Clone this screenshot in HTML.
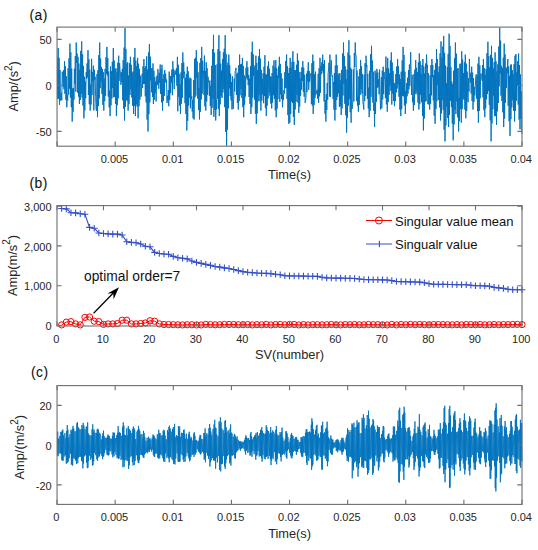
<!DOCTYPE html>
<html><head><meta charset="utf-8"><style>
html,body{margin:0;padding:0;background:#fff;width:538px;height:550px;overflow:hidden}
svg{display:block}
text{font-family:"Liberation Sans",sans-serif;fill:#262626}
.tk{font-size:11px}
.lb{font-size:12.8px}
.sup{font-size:10px}
.lg{font-size:13px;fill:#111}
.an{font-size:13.8px;fill:#111}
.pl{font-size:13.8px;fill:#111;letter-spacing:0.5px;stroke:#111;stroke-width:0.08px}
</style></head>
<body><svg width="538" height="550" viewBox="0 0 538 550">
<rect x="0" y="0" width="538" height="550" fill="#fff"/>
<clipPath id="ca"><rect x="57" y="27" width="466" height="120"/></clipPath>
<polyline points="57.3,56.7 57.7,99.0 58.2,48.0 58.6,98.6 59.1,57.9 59.5,105.0 60.0,69.9 60.4,97.9 60.9,100.7 61.3,92.5 61.8,100.1 62.2,71.7 62.7,76.5 63.1,86.8 63.6,70.2 64.0,89.2 64.5,61.2 64.9,93.8 65.4,66.1 65.9,99.8 66.3,76.3 66.8,107.3 67.2,94.8 67.7,100.5 68.1,68.3 68.6,94.6 69.0,58.4 69.5,88.6 69.9,43.6 70.4,97.8 70.8,52.4 71.3,107.2 71.7,68.7 72.2,121.6 72.6,88.5 73.1,111.7 73.5,87.9 74.0,99.6 74.4,68.7 74.9,84.0 75.3,56.1 75.8,91.7 76.2,42.5 76.7,62.8 77.1,53.5 77.6,92.7 78.0,56.8 78.5,96.6 78.9,63.5 79.4,104.0 79.8,69.7 80.3,99.9 80.7,50.9 81.2,93.9 81.7,41.4 82.1,97.5 82.6,54.4 83.0,105.6 83.5,65.9 83.9,118.3 84.4,76.7 84.8,110.3 85.3,81.6 85.7,98.2 86.2,72.1 86.6,78.8 87.1,63.3 87.5,77.3 88.0,50.2 88.4,95.0 88.9,59.3 89.3,104.2 89.8,69.6 90.2,110.6 90.7,84.6 91.1,104.5 91.6,58.8 92.0,95.1 92.5,72.2 92.9,80.9 93.4,65.6 93.8,110.4 94.3,69.7 94.7,79.9 95.2,76.8 95.6,96.3 96.1,109.4 96.5,110.8 97.0,74.0 97.5,117.2 97.9,70.1 98.4,106.1 98.8,55.1 99.3,98.4 99.7,42.5 100.2,88.2 100.6,58.6 101.1,81.5 101.5,67.0 102.0,94.0 102.4,68.9 102.9,104.9 103.3,72.2 103.8,110.6 104.2,78.4 104.7,101.0 105.1,68.9 105.6,95.8 106.0,57.1 106.5,73.9 106.9,46.9 107.4,75.5 107.8,58.1 108.3,96.7 108.7,71.5 109.2,107.3 109.6,90.7 110.1,116.1 110.5,66.5 111.0,105.4 111.4,71.2 111.9,98.4 112.3,61.8 112.8,88.0 113.3,48.0 113.7,97.2 114.2,60.6 114.6,97.0 115.1,68.8 115.5,103.9 116.0,68.3 116.4,116.1 116.9,72.4 117.3,105.3 117.8,62.7 118.2,98.4 118.7,55.7 119.1,81.0 119.6,63.2 120.0,70.5 120.5,73.2 120.9,84.9 121.4,72.3 121.8,82.2 122.3,68.9 122.7,100.2 123.2,60.1 123.6,108.7 124.1,47.6 124.5,120.5 125.0,28.2 125.4,106.8 125.9,48.9 126.3,100.0 126.8,63.6 127.2,101.2 127.7,62.2 128.1,110.6 128.6,75.6 129.0,104.2 129.5,63.3 130.0,94.9 130.4,56.8 130.9,89.3 131.3,64.8 131.8,97.6 132.2,72.6 132.7,105.9 133.1,71.5 133.6,114.0 134.0,57.1 134.5,105.9 134.9,48.0 135.4,116.1 135.8,60.6 136.3,104.4 136.7,66.3 137.2,106.8 137.6,57.9 138.1,118.3 138.5,63.7 139.0,106.2 139.4,68.8 139.9,99.6 140.3,75.7 140.8,86.5 141.2,96.6 141.7,86.0 142.1,73.8 142.6,88.0 143.0,66.4 143.5,83.8 143.9,59.0 144.4,83.8 144.8,68.1 145.3,96.3 145.8,66.0 146.2,102.5 146.7,56.3 147.1,119.6 147.6,69.5 148.0,131.5 148.5,52.5 148.9,114.2 149.4,44.0 149.8,102.4 150.3,56.7 150.7,80.3 151.2,68.3 151.6,92.3 152.1,68.3 152.5,97.0 153.0,63.4 153.4,104.0 153.9,70.7 154.3,99.7 154.8,77.0 155.2,92.9 155.7,81.5 156.1,101.4 156.6,78.4 157.0,75.7 157.5,85.1 157.9,69.1 158.4,77.3 158.8,88.8 159.3,72.8 159.7,82.9 160.2,64.5 160.6,94.0 161.1,69.3 161.6,102.4 162.0,64.8 162.5,110.6 162.9,79.0 163.4,100.9 163.8,74.2 164.3,95.9 164.7,70.0 165.2,81.7 165.6,73.7 166.1,83.0 166.5,79.6 167.0,103.0 167.4,95.9 167.9,100.5 168.3,90.0 168.8,106.2 169.2,71.6 169.7,99.9 170.1,76.2 170.6,93.2 171.0,75.8 171.5,82.4 171.9,69.5 172.4,95.2 172.8,61.2 173.3,77.1 173.7,69.3 174.2,89.1 174.6,72.6 175.1,70.5 175.5,73.0 176.0,74.9 176.4,68.2 176.9,85.8 177.4,56.8 177.8,111.3 178.3,64.8 178.7,96.9 179.2,73.9 179.6,105.5 180.1,84.4 180.5,114.0 181.0,72.4 181.4,103.8 181.9,63.1 182.3,97.8 182.8,52.4 183.2,78.4 183.7,62.5 184.1,74.0 184.6,71.9 185.0,103.2 185.5,77.9 185.9,114.0 186.4,73.9 186.8,130.4 187.3,66.7 187.7,120.8 188.2,71.2 188.6,105.5 189.1,78.5 189.5,97.6 190.0,77.6 190.4,108.3 190.9,78.4 191.3,99.0 191.8,96.5 192.2,111.5 192.7,99.9 193.1,118.3 193.6,80.2 194.1,119.5 194.5,59.0 195.0,97.4 195.4,57.8 195.9,95.6 196.3,50.2 196.8,78.0 197.2,61.5 197.7,98.6 198.1,72.3 198.6,110.0 199.0,88.3 199.5,119.4 199.9,62.9 200.4,111.8 200.8,58.1 201.3,99.4 201.7,46.9 202.2,93.5 202.6,60.8 203.1,72.8 203.5,71.0 204.0,95.1 204.4,55.6 204.9,106.4 205.3,70.9 205.8,110.6 206.2,62.3 206.7,101.5 207.1,68.0 207.6,95.0 208.0,76.7 208.5,82.1 208.9,81.1 209.4,95.9 209.9,80.5 210.3,106.0 210.8,85.6 211.2,115.0 211.7,65.8 212.1,107.7 212.6,49.1 213.0,98.8 213.5,34.8 213.9,116.8 214.4,52.7 214.8,110.0 215.3,65.1 215.7,120.5 216.2,100.0 216.6,109.2 217.1,64.3 217.5,98.6 218.0,49.1 218.4,108.7 218.9,35.2 219.3,116.1 219.8,51.0 220.2,104.3 220.7,63.6 221.1,96.1 221.6,70.7 222.0,97.9 222.5,59.2 222.9,92.6 223.4,52.4 223.8,89.0 224.3,48.7 224.7,107.2 225.2,35.2 225.7,131.9 226.1,53.9 226.6,145.8 227.0,65.5 227.5,129.7 227.9,62.6 228.4,108.3 228.8,54.6 229.3,88.6 229.7,65.3 230.2,96.0 230.6,73.8 231.1,100.5 231.5,82.0 232.0,109.5 232.4,76.2 232.9,104.1 233.3,108.9 233.8,96.0 234.2,78.5 234.7,91.5 235.1,71.3 235.6,70.2 236.0,67.8 236.5,94.8 236.9,73.9 237.4,102.8 237.8,72.7 238.3,109.5 238.7,65.3 239.2,101.1 239.6,54.6 240.1,95.3 240.5,64.4 241.0,89.1 241.5,63.9 241.9,98.0 242.4,57.9 242.8,107.2 243.3,65.9 243.7,117.2 244.2,75.2 244.6,104.8 245.1,77.0 245.5,96.4 246.0,67.9 246.4,77.6 246.9,61.2 247.3,79.5 247.8,67.2 248.2,85.2 248.7,75.1 249.1,97.0 249.6,78.6 250.0,103.9 250.5,66.2 250.9,114.0 251.4,52.1 251.8,107.2 252.3,41.8 252.7,97.6 253.2,54.3 253.6,75.6 254.1,67.3 254.5,99.4 255.0,65.4 255.4,113.7 255.9,55.7 256.3,123.8 256.8,62.8 257.2,113.5 257.7,70.0 258.2,101.4 258.6,56.4 259.1,94.9 259.5,49.1 260.0,101.2 260.4,58.6 260.9,110.6 261.3,69.8 261.8,100.6 262.2,78.9 262.7,94.3 263.1,73.4 263.6,103.2 264.0,66.7 264.5,95.9 264.9,55.2 265.4,108.1 265.8,74.0 266.3,116.1 266.7,74.7 267.2,105.6 267.6,66.2 268.1,98.4 268.5,61.2 269.0,92.3 269.4,68.7 269.9,95.6 270.3,76.4 270.8,103.5 271.2,76.8 271.7,108.4 272.1,73.0 272.6,102.5 273.0,65.6 273.5,95.2 274.0,60.3 274.4,98.9 274.9,67.5 275.3,110.4 275.8,60.1 276.2,117.2 276.7,68.3 277.1,108.8 277.6,75.5 278.0,99.0 278.5,66.5 278.9,77.5 279.4,56.8 279.8,101.8 280.3,63.9 280.7,94.3 281.2,73.2 281.6,99.1 282.1,78.4 282.5,107.3 283.0,94.0 283.4,99.9 283.9,90.1 284.3,93.6 284.8,72.3 285.2,88.2 285.7,61.0 286.1,88.1 286.6,54.6 287.0,98.9 287.5,66.3 287.9,115.1 288.4,73.0 288.8,123.8 289.3,68.2 289.8,122.7 290.2,57.9 290.7,114.0 291.1,67.3 291.6,101.5 292.0,61.8 292.5,103.0 292.9,51.3 293.4,116.8 293.8,61.9 294.3,124.9 294.7,70.1 295.2,109.5 295.6,70.2 296.1,101.7 296.5,64.8 297.0,95.0 297.4,53.5 297.9,102.6 298.3,60.5 298.8,112.8 299.2,72.1 299.7,106.4 300.1,78.3 300.6,95.8 301.0,71.9 301.5,89.7 301.9,67.3 302.4,80.9 302.8,61.2 303.3,91.6 303.7,67.6 304.2,96.7 304.6,74.8 305.1,102.9 305.5,101.7 306.0,97.2 306.5,73.7 306.9,92.1 307.4,70.9 307.8,81.3 308.3,62.3 308.7,89.8 309.2,71.1 309.6,81.8 310.1,77.3 310.5,73.9 311.0,73.2 311.4,104.0 311.9,63.3 312.3,105.7 312.8,54.6 313.2,113.9 313.7,61.1 314.1,105.1 314.6,74.4 315.0,97.9 315.5,71.7 315.9,94.7 316.4,91.1 316.8,92.8 317.3,89.6 317.7,98.9 318.2,73.8 318.6,102.9 319.1,68.3 319.5,96.3 320.0,57.9 320.4,92.9 320.9,66.0 321.3,74.2 321.8,62.3 322.3,70.6 322.7,54.6 323.2,73.3 323.6,64.1 324.1,101.4 324.5,60.1 325.0,113.7 325.4,100.3 325.9,121.6 326.3,94.2 326.8,110.0 327.2,82.9 327.7,99.9 328.1,73.3 328.6,68.9 329.0,62.7 329.5,96.5 329.9,54.6 330.4,97.1 330.8,66.9 331.3,60.2 331.7,74.7 332.2,76.5 332.6,75.4 333.1,98.9 333.5,82.1 334.0,109.7 334.4,73.0 334.9,120.5 335.3,65.6 335.8,110.0 336.2,54.6 336.7,100.0 337.1,65.1 337.6,96.8 338.1,74.7 338.5,93.2 339.0,73.3 339.4,106.8 339.9,73.3 340.3,106.3 340.8,80.1 341.2,115.0 341.7,69.9 342.1,108.4 342.6,53.5 343.0,95.6 343.5,42.5 343.9,83.6 344.4,56.3 344.8,103.8 345.3,66.3 345.7,115.2 346.2,78.9 346.6,132.6 347.1,69.6 347.5,117.6 348.0,52.4 348.4,105.6 348.9,40.3 349.3,99.3 349.8,55.3 350.2,112.2 350.7,67.7 351.1,122.7 351.6,69.5 352.0,109.0 352.5,106.7 352.9,100.2 353.4,69.4 353.9,101.5 354.3,53.0 354.8,66.9 355.2,42.5 355.7,55.2 356.1,55.3 356.6,101.1 357.0,70.4 357.5,105.4 357.9,96.8 358.4,111.7 358.8,76.4 359.3,104.9 359.7,69.1 360.2,95.0 360.6,60.1 361.1,89.2 361.5,66.2 362.0,93.7 362.4,74.1 362.9,102.6 363.3,104.9 363.8,109.5 364.2,74.7 364.7,101.0 365.1,63.2 365.6,95.6 366.0,55.7 366.5,67.1 366.9,65.2 367.4,98.8 367.8,73.8 368.3,108.6 368.7,87.7 369.2,117.2 369.6,70.9 370.1,110.8 370.6,54.1 371.0,97.0 371.5,45.8 371.9,71.9 372.4,60.7 372.8,102.4 373.3,71.7 373.7,110.7 374.2,102.6 374.6,127.1 375.1,70.6 375.5,114.0 376.0,73.1 376.4,101.9 376.9,68.9 377.3,87.8 377.8,72.4 378.2,87.0 378.7,79.3 379.1,94.3 379.6,69.6 380.0,93.3 380.5,109.5 380.9,100.9 381.4,77.1 381.8,108.4 382.3,70.6 382.7,99.4 383.2,66.7 383.6,94.1 384.1,72.0 384.5,78.6 385.0,78.3 385.4,98.2 385.9,56.6 386.4,104.3 386.8,68.1 387.3,111.7 387.7,57.9 388.2,102.1 388.6,68.5 389.1,95.0 389.5,73.3 390.0,85.7 390.4,60.6 390.9,90.9 391.3,52.4 391.8,104.6 392.2,62.5 392.7,93.6 393.1,70.9 393.6,101.0 394.0,82.7 394.5,106.2 394.9,83.7 395.4,101.1 395.8,74.1 396.3,92.5 396.7,66.5 397.2,88.6 397.6,59.0 398.1,84.5 398.5,66.4 399.0,96.8 399.4,74.5 399.9,109.6 400.3,79.1 400.8,116.1 401.2,71.7 401.7,109.2 402.2,60.4 402.6,95.8 403.1,46.9 403.5,96.3 404.0,55.0 404.4,105.4 404.9,71.7 405.3,114.0 405.8,90.9 406.2,103.5 406.7,83.0 407.1,96.3 407.6,77.8 408.0,93.7 408.5,70.1 408.9,89.3 409.4,64.5 409.8,85.9 410.3,65.1 410.7,52.2 411.2,76.7 411.6,95.0 412.1,74.9 412.5,102.1 413.0,97.3 413.4,110.6 413.9,74.2 414.3,105.1 414.8,69.7 415.2,94.2 415.7,60.1 416.1,91.5 416.6,67.8 417.0,94.2 417.5,72.3 418.0,102.6 418.4,62.4 418.9,109.5 419.3,53.5 419.8,104.1 420.2,61.2 420.7,94.9 421.1,73.8 421.6,102.2 422.0,65.0 422.5,115.8 422.9,59.0 423.4,130.4 423.8,66.3 424.3,118.5 424.7,73.5 425.2,101.9 425.6,63.5 426.1,101.1 426.5,54.6 427.0,68.2 427.4,64.9 427.9,104.1 428.3,73.1 428.8,104.5 429.2,94.0 429.7,109.5 430.1,75.3 430.6,103.8 431.0,65.0 431.5,95.3 431.9,59.0 432.4,77.3 432.8,65.1 433.3,100.3 433.7,75.0 434.2,115.6 434.7,69.9 435.1,123.8 435.6,63.3 436.0,108.9 436.5,49.1 436.9,101.1 437.4,59.0 437.8,85.1 438.3,72.3 438.7,100.0 439.2,66.4 439.6,107.4 440.1,53.4 440.5,120.5 441.0,41.4 441.4,113.4 441.9,57.8 442.3,100.2 442.8,46.4 443.2,110.1 443.7,35.9 444.1,129.8 444.6,52.9 445.0,141.4 445.5,65.5 445.9,125.5 446.4,83.1 446.8,106.6 447.3,66.8 447.7,118.1 448.2,53.8 448.6,127.1 449.1,33.7 449.5,114.7 450.0,45.9 450.5,100.7 450.9,67.2 451.4,107.1 451.8,81.6 452.3,123.6 452.7,84.0 453.2,140.3 453.6,70.7 454.1,124.4 454.5,58.4 455.0,109.6 455.4,42.5 455.9,114.1 456.3,53.6 456.8,101.5 457.2,68.9 457.7,117.3 458.1,68.0 458.6,131.5 459.0,97.8 459.5,121.1 459.9,63.8 460.4,109.1 460.8,63.7 461.3,122.7 461.7,51.3 462.2,109.1 462.6,59.6 463.1,98.4 463.5,73.1 464.0,99.9 464.4,62.2 464.9,109.6 465.3,54.6 465.8,118.3 466.3,63.7 466.7,110.9 467.2,71.6 467.6,96.7 468.1,102.2 468.5,78.3 469.0,91.6 469.4,58.9 469.9,77.5 470.3,82.7 470.8,72.8 471.2,93.6 471.7,66.7 472.1,101.0 472.6,72.6 473.0,109.5 473.5,78.1 473.9,102.0 474.4,86.9 474.8,95.4 475.3,85.9 475.7,79.0 476.2,74.4 476.6,98.6 477.1,75.0 477.5,111.2 478.0,63.5 478.4,122.7 478.9,56.8 479.3,111.0 479.8,65.2 480.2,98.3 480.7,74.0 481.1,73.5 481.6,74.6 482.1,80.6 482.5,65.1 483.0,97.4 483.4,59.0 483.9,110.1 484.3,68.1 484.8,117.2 485.2,74.8 485.7,108.3 486.1,69.0 486.6,99.3 487.0,53.2 487.5,94.0 487.9,41.8 488.4,91.0 488.8,56.1 489.3,104.8 489.7,67.4 490.2,120.3 490.6,54.9 491.1,141.4 491.5,45.8 492.0,123.5 492.4,57.9 492.9,109.3 493.3,68.5 493.8,95.8 494.2,62.1 494.7,116.2 495.1,52.4 495.6,116.1 496.0,61.1 496.5,124.9 496.9,71.3 497.4,111.3 497.8,64.4 498.3,103.0 498.8,46.5 499.2,86.3 499.7,27.8 500.1,73.8 500.6,40.6 501.0,95.6 501.5,65.9 501.9,101.0 502.4,67.9 502.8,112.3 503.3,57.7 503.7,127.1 504.2,43.6 504.6,118.5 505.1,54.3 505.5,102.8 506.0,67.3 506.4,87.9 506.9,68.4 507.3,73.2 507.8,59.0 508.2,105.9 508.7,66.4 509.1,121.1 509.6,75.8 510.0,135.9 510.5,64.8 510.9,119.2 511.4,64.5 511.8,107.4 512.3,70.2 512.7,100.2 513.2,74.3 513.6,110.8 514.1,64.0 514.6,121.6 515.0,55.7 515.5,110.7 515.9,54.0 516.4,100.7 516.8,72.1 517.3,85.3 517.7,61.1 518.2,104.5 518.6,53.5 519.1,119.5 519.5,65.0 520.0,129.3 520.4,74.4 520.9,118.8 521.3,91.2 521.8,133.7" fill="none" stroke="#0072BD" stroke-width="0.95" clip-path="url(#ca)"/>
<rect x="57.05" y="27.1" width="464.95" height="119.10" fill="none" stroke="#6e6e6e" stroke-width="1.1"/>
<path d="M57.05 146.2v-4.6M57.05 27.1v4.6M115.17 146.2v-4.6M115.17 27.1v4.6M173.29 146.2v-4.6M173.29 27.1v4.6M231.41 146.2v-4.6M231.41 27.1v4.6M289.52 146.2v-4.6M289.52 27.1v4.6M347.64 146.2v-4.6M347.64 27.1v4.6M405.76 146.2v-4.6M405.76 27.1v4.6M463.88 146.2v-4.6M463.88 27.1v4.6M522.00 146.2v-4.6M522.00 27.1v4.6" stroke="#6e6e6e" stroke-width="1.1" fill="none"/>
<text x="114.47" y="162.90" text-anchor="middle" class="tk">0.005</text>
<text x="172.59" y="162.90" text-anchor="middle" class="tk">0.01</text>
<text x="230.71" y="162.90" text-anchor="middle" class="tk">0.015</text>
<text x="288.82" y="162.90" text-anchor="middle" class="tk">0.02</text>
<text x="346.94" y="162.90" text-anchor="middle" class="tk">0.025</text>
<text x="405.06" y="162.90" text-anchor="middle" class="tk">0.03</text>
<text x="463.18" y="162.90" text-anchor="middle" class="tk">0.035</text>
<text x="521.30" y="162.90" text-anchor="middle" class="tk">0.04</text>
<path d="M57.05 39.40h4.6M522.0 39.40h-4.6M57.05 85.37h4.6M522.0 85.37h-4.6M57.05 131.34h4.6M522.0 131.34h-4.6" stroke="#6e6e6e" stroke-width="1.1" fill="none"/>
<text x="51.65" y="44.10" text-anchor="end" class="tk">50</text>
<text x="51.65" y="90.07" text-anchor="end" class="tk">0</text>
<text x="51.65" y="136.04" text-anchor="end" class="tk">-50</text>
<text x="289.5" y="179" text-anchor="middle" class="lb">Time(s)</text>
<text transform="translate(18.0,86.3) rotate(-90)" text-anchor="middle" class="lb">Amp/(s<tspan class="sup" dy="-6.3">2</tspan><tspan dy="6.3">)</tspan></text>
<text x="29.5" y="19.5" class="pl">(a)</text>
<polyline points="61.65,324.90 66.30,322.12 70.95,321.60 75.60,323.91 80.25,324.90 84.90,317.38 89.55,316.98 94.20,321.20 98.85,321.60 103.50,324.39 108.15,323.91 112.80,323.91 117.45,323.51 122.10,320.21 126.75,320.21 131.40,323.91 136.05,323.91 140.70,323.51 145.35,322.99 150.00,320.72 154.65,321.20 159.30,323.91 163.95,324.53 168.60,324.52 173.25,324.68 177.90,324.79 182.55,324.91 187.20,324.74 191.85,324.73 196.50,324.92 201.15,324.92 205.80,324.43 210.45,324.61 215.10,324.82 219.75,324.72 224.40,324.44 229.05,324.48 233.70,324.51 238.35,324.74 243.00,324.69 247.65,324.59 252.30,324.91 256.95,324.66 261.60,324.80 266.25,324.49 270.90,324.91 275.55,324.59 280.20,324.49 284.85,324.83 289.50,324.48 294.15,324.49 298.80,324.93 303.45,324.58 308.10,324.94 312.75,324.68 317.40,324.72 322.05,324.84 326.70,324.77 331.35,324.53 336.00,324.78 340.65,324.87 345.30,324.58 349.95,324.71 354.60,324.53 359.25,324.82 363.90,324.78 368.55,324.53 373.20,324.68 377.85,324.68 382.50,324.82 387.15,324.94 391.80,324.46 396.45,324.90 401.10,324.51 405.75,324.75 410.40,324.45 415.05,324.74 419.70,324.46 424.35,324.66 429.00,324.82 433.65,324.56 438.30,324.59 442.95,324.59 447.60,324.70 452.25,324.83 456.90,324.61 461.55,324.89 466.20,324.58 470.85,324.61 475.50,324.75 480.15,324.53 484.80,324.84 489.45,324.74 494.10,324.53 498.75,324.75 503.40,324.57 508.05,324.63 512.70,324.46 517.35,324.43 522.00,324.57" fill="none" stroke="#ff0000" stroke-width="1"/>
<g fill="none" stroke="#ff0000" stroke-width="1"><circle cx="61.65" cy="324.90" r="3.1"/><circle cx="66.30" cy="322.12" r="3.1"/><circle cx="70.95" cy="321.60" r="3.1"/><circle cx="75.60" cy="323.91" r="3.1"/><circle cx="80.25" cy="324.90" r="3.1"/><circle cx="84.90" cy="317.38" r="3.1"/><circle cx="89.55" cy="316.98" r="3.1"/><circle cx="94.20" cy="321.20" r="3.1"/><circle cx="98.85" cy="321.60" r="3.1"/><circle cx="103.50" cy="324.39" r="3.1"/><circle cx="108.15" cy="323.91" r="3.1"/><circle cx="112.80" cy="323.91" r="3.1"/><circle cx="117.45" cy="323.51" r="3.1"/><circle cx="122.10" cy="320.21" r="3.1"/><circle cx="126.75" cy="320.21" r="3.1"/><circle cx="131.40" cy="323.91" r="3.1"/><circle cx="136.05" cy="323.91" r="3.1"/><circle cx="140.70" cy="323.51" r="3.1"/><circle cx="145.35" cy="322.99" r="3.1"/><circle cx="150.00" cy="320.72" r="3.1"/><circle cx="154.65" cy="321.20" r="3.1"/><circle cx="159.30" cy="323.91" r="3.1"/><circle cx="163.95" cy="324.53" r="3.1"/><circle cx="168.60" cy="324.52" r="3.1"/><circle cx="173.25" cy="324.68" r="3.1"/><circle cx="177.90" cy="324.79" r="3.1"/><circle cx="182.55" cy="324.91" r="3.1"/><circle cx="187.20" cy="324.74" r="3.1"/><circle cx="191.85" cy="324.73" r="3.1"/><circle cx="196.50" cy="324.92" r="3.1"/><circle cx="201.15" cy="324.92" r="3.1"/><circle cx="205.80" cy="324.43" r="3.1"/><circle cx="210.45" cy="324.61" r="3.1"/><circle cx="215.10" cy="324.82" r="3.1"/><circle cx="219.75" cy="324.72" r="3.1"/><circle cx="224.40" cy="324.44" r="3.1"/><circle cx="229.05" cy="324.48" r="3.1"/><circle cx="233.70" cy="324.51" r="3.1"/><circle cx="238.35" cy="324.74" r="3.1"/><circle cx="243.00" cy="324.69" r="3.1"/><circle cx="247.65" cy="324.59" r="3.1"/><circle cx="252.30" cy="324.91" r="3.1"/><circle cx="256.95" cy="324.66" r="3.1"/><circle cx="261.60" cy="324.80" r="3.1"/><circle cx="266.25" cy="324.49" r="3.1"/><circle cx="270.90" cy="324.91" r="3.1"/><circle cx="275.55" cy="324.59" r="3.1"/><circle cx="280.20" cy="324.49" r="3.1"/><circle cx="284.85" cy="324.83" r="3.1"/><circle cx="289.50" cy="324.48" r="3.1"/><circle cx="294.15" cy="324.49" r="3.1"/><circle cx="298.80" cy="324.93" r="3.1"/><circle cx="303.45" cy="324.58" r="3.1"/><circle cx="308.10" cy="324.94" r="3.1"/><circle cx="312.75" cy="324.68" r="3.1"/><circle cx="317.40" cy="324.72" r="3.1"/><circle cx="322.05" cy="324.84" r="3.1"/><circle cx="326.70" cy="324.77" r="3.1"/><circle cx="331.35" cy="324.53" r="3.1"/><circle cx="336.00" cy="324.78" r="3.1"/><circle cx="340.65" cy="324.87" r="3.1"/><circle cx="345.30" cy="324.58" r="3.1"/><circle cx="349.95" cy="324.71" r="3.1"/><circle cx="354.60" cy="324.53" r="3.1"/><circle cx="359.25" cy="324.82" r="3.1"/><circle cx="363.90" cy="324.78" r="3.1"/><circle cx="368.55" cy="324.53" r="3.1"/><circle cx="373.20" cy="324.68" r="3.1"/><circle cx="377.85" cy="324.68" r="3.1"/><circle cx="382.50" cy="324.82" r="3.1"/><circle cx="387.15" cy="324.94" r="3.1"/><circle cx="391.80" cy="324.46" r="3.1"/><circle cx="396.45" cy="324.90" r="3.1"/><circle cx="401.10" cy="324.51" r="3.1"/><circle cx="405.75" cy="324.75" r="3.1"/><circle cx="410.40" cy="324.45" r="3.1"/><circle cx="415.05" cy="324.74" r="3.1"/><circle cx="419.70" cy="324.46" r="3.1"/><circle cx="424.35" cy="324.66" r="3.1"/><circle cx="429.00" cy="324.82" r="3.1"/><circle cx="433.65" cy="324.56" r="3.1"/><circle cx="438.30" cy="324.59" r="3.1"/><circle cx="442.95" cy="324.59" r="3.1"/><circle cx="447.60" cy="324.70" r="3.1"/><circle cx="452.25" cy="324.83" r="3.1"/><circle cx="456.90" cy="324.61" r="3.1"/><circle cx="461.55" cy="324.89" r="3.1"/><circle cx="466.20" cy="324.58" r="3.1"/><circle cx="470.85" cy="324.61" r="3.1"/><circle cx="475.50" cy="324.75" r="3.1"/><circle cx="480.15" cy="324.53" r="3.1"/><circle cx="484.80" cy="324.84" r="3.1"/><circle cx="489.45" cy="324.74" r="3.1"/><circle cx="494.10" cy="324.53" r="3.1"/><circle cx="498.75" cy="324.75" r="3.1"/><circle cx="503.40" cy="324.57" r="3.1"/><circle cx="508.05" cy="324.63" r="3.1"/><circle cx="512.70" cy="324.46" r="3.1"/><circle cx="517.35" cy="324.43" r="3.1"/><circle cx="522.00" cy="324.57" r="3.1"/></g>
<polyline points="61.65,208.50 66.30,208.90 70.95,212.70 75.60,212.90 80.25,213.80 84.90,214.30 89.55,227.40 94.20,228.30 98.85,233.00 103.50,233.50 108.15,233.90 112.80,234.10 117.45,234.10 122.10,235.00 126.75,241.70 131.40,242.40 136.05,242.80 140.70,244.00 145.35,246.20 150.00,246.80 154.65,252.40 159.30,253.50 163.95,254.00 168.60,254.20 173.25,256.40 177.90,257.70 182.55,258.30 187.20,258.90 191.85,261.00 196.50,262.40 201.15,263.40 205.80,264.40 210.45,265.40 215.10,266.50 219.75,267.10 224.40,267.90 229.05,268.50 233.70,269.50 238.35,270.60 243.00,271.60 247.65,272.20 252.30,272.60 256.95,273.00 261.60,273.20 266.25,273.40 270.90,273.60 275.55,274.30 280.20,274.80 284.85,275.80 289.50,275.88 294.15,275.96 298.80,276.04 303.45,276.12 308.10,276.20 312.75,276.28 317.40,276.36 322.05,277.20 326.70,277.90 331.35,277.99 336.00,278.08 340.65,278.17 345.30,278.26 349.95,278.35 354.60,278.44 359.25,279.00 363.90,279.50 368.55,279.59 373.20,279.68 377.85,279.77 382.50,279.86 387.15,279.95 391.80,280.60 396.45,281.50 401.10,281.63 405.75,281.76 410.40,281.89 415.05,282.02 419.70,282.15 424.35,282.70 429.00,283.70 433.65,284.20 438.30,284.28 442.95,284.36 447.60,284.44 452.25,284.52 456.90,284.60 461.55,284.68 466.20,284.76 470.85,285.30 475.50,285.80 480.15,285.80 484.80,285.90 489.45,286.30 494.10,287.40 498.75,287.90 503.40,288.40 508.05,289.20 512.70,289.70 517.35,289.70 522.00,289.80" fill="none" stroke="#3450c8" stroke-width="1.1"/>
<path d="M58.25 208.50h6.8M61.65 205.20v6.6M62.90 208.90h6.8M66.30 205.60v6.6M67.55 212.70h6.8M70.95 209.40v6.6M72.20 212.90h6.8M75.60 209.60v6.6M76.85 213.80h6.8M80.25 210.50v6.6M81.50 214.30h6.8M84.90 211.00v6.6M86.15 227.40h6.8M89.55 224.10v6.6M90.80 228.30h6.8M94.20 225.00v6.6M95.45 233.00h6.8M98.85 229.70v6.6M100.10 233.50h6.8M103.50 230.20v6.6M104.75 233.90h6.8M108.15 230.60v6.6M109.40 234.10h6.8M112.80 230.80v6.6M114.05 234.10h6.8M117.45 230.80v6.6M118.70 235.00h6.8M122.10 231.70v6.6M123.35 241.70h6.8M126.75 238.40v6.6M128.00 242.40h6.8M131.40 239.10v6.6M132.65 242.80h6.8M136.05 239.50v6.6M137.30 244.00h6.8M140.70 240.70v6.6M141.95 246.20h6.8M145.35 242.90v6.6M146.60 246.80h6.8M150.00 243.50v6.6M151.25 252.40h6.8M154.65 249.10v6.6M155.90 253.50h6.8M159.30 250.20v6.6M160.55 254.00h6.8M163.95 250.70v6.6M165.20 254.20h6.8M168.60 250.90v6.6M169.85 256.40h6.8M173.25 253.10v6.6M174.50 257.70h6.8M177.90 254.40v6.6M179.15 258.30h6.8M182.55 255.00v6.6M183.80 258.90h6.8M187.20 255.60v6.6M188.45 261.00h6.8M191.85 257.70v6.6M193.10 262.40h6.8M196.50 259.10v6.6M197.75 263.40h6.8M201.15 260.10v6.6M202.40 264.40h6.8M205.80 261.10v6.6M207.05 265.40h6.8M210.45 262.10v6.6M211.70 266.50h6.8M215.10 263.20v6.6M216.35 267.10h6.8M219.75 263.80v6.6M221.00 267.90h6.8M224.40 264.60v6.6M225.65 268.50h6.8M229.05 265.20v6.6M230.30 269.50h6.8M233.70 266.20v6.6M234.95 270.60h6.8M238.35 267.30v6.6M239.60 271.60h6.8M243.00 268.30v6.6M244.25 272.20h6.8M247.65 268.90v6.6M248.90 272.60h6.8M252.30 269.30v6.6M253.55 273.00h6.8M256.95 269.70v6.6M258.20 273.20h6.8M261.60 269.90v6.6M262.85 273.40h6.8M266.25 270.10v6.6M267.50 273.60h6.8M270.90 270.30v6.6M272.15 274.30h6.8M275.55 271.00v6.6M276.80 274.80h6.8M280.20 271.50v6.6M281.45 275.80h6.8M284.85 272.50v6.6M286.10 275.88h6.8M289.50 272.58v6.6M290.75 275.96h6.8M294.15 272.66v6.6M295.40 276.04h6.8M298.80 272.74v6.6M300.05 276.12h6.8M303.45 272.82v6.6M304.70 276.20h6.8M308.10 272.90v6.6M309.35 276.28h6.8M312.75 272.98v6.6M314.00 276.36h6.8M317.40 273.06v6.6M318.65 277.20h6.8M322.05 273.90v6.6M323.30 277.90h6.8M326.70 274.60v6.6M327.95 277.99h6.8M331.35 274.69v6.6M332.60 278.08h6.8M336.00 274.78v6.6M337.25 278.17h6.8M340.65 274.87v6.6M341.90 278.26h6.8M345.30 274.96v6.6M346.55 278.35h6.8M349.95 275.05v6.6M351.20 278.44h6.8M354.60 275.14v6.6M355.85 279.00h6.8M359.25 275.70v6.6M360.50 279.50h6.8M363.90 276.20v6.6M365.15 279.59h6.8M368.55 276.29v6.6M369.80 279.68h6.8M373.20 276.38v6.6M374.45 279.77h6.8M377.85 276.47v6.6M379.10 279.86h6.8M382.50 276.56v6.6M383.75 279.95h6.8M387.15 276.65v6.6M388.40 280.60h6.8M391.80 277.30v6.6M393.05 281.50h6.8M396.45 278.20v6.6M397.70 281.63h6.8M401.10 278.33v6.6M402.35 281.76h6.8M405.75 278.46v6.6M407.00 281.89h6.8M410.40 278.59v6.6M411.65 282.02h6.8M415.05 278.72v6.6M416.30 282.15h6.8M419.70 278.85v6.6M420.95 282.70h6.8M424.35 279.40v6.6M425.60 283.70h6.8M429.00 280.40v6.6M430.25 284.20h6.8M433.65 280.90v6.6M434.90 284.28h6.8M438.30 280.98v6.6M439.55 284.36h6.8M442.95 281.06v6.6M444.20 284.44h6.8M447.60 281.14v6.6M448.85 284.52h6.8M452.25 281.22v6.6M453.50 284.60h6.8M456.90 281.30v6.6M458.15 284.68h6.8M461.55 281.38v6.6M462.80 284.76h6.8M466.20 281.46v6.6M467.45 285.30h6.8M470.85 282.00v6.6M472.10 285.80h6.8M475.50 282.50v6.6M476.75 285.80h6.8M480.15 282.50v6.6M481.40 285.90h6.8M484.80 282.60v6.6M486.05 286.30h6.8M489.45 283.00v6.6M490.70 287.40h6.8M494.10 284.10v6.6M495.35 287.90h6.8M498.75 284.60v6.6M500.00 288.40h6.8M503.40 285.10v6.6M504.65 289.20h6.8M508.05 285.90v6.6M509.30 289.70h6.8M512.70 286.40v6.6M513.95 289.70h6.8M517.35 286.40v6.6M518.60 289.80h6.8M522.00 286.50v6.6" fill="none" stroke="#3450c8" stroke-width="1.1"/>
<rect x="57.0" y="205.6" width="465.00" height="120.40" fill="none" stroke="#6e6e6e" stroke-width="1.1"/>
<path d="M57.00 326.0v-4.6M57.00 205.6v4.6M103.50 326.0v-4.6M103.50 205.6v4.6M150.00 326.0v-4.6M150.00 205.6v4.6M196.50 326.0v-4.6M196.50 205.6v4.6M243.00 326.0v-4.6M243.00 205.6v4.6M289.50 326.0v-4.6M289.50 205.6v4.6M336.00 326.0v-4.6M336.00 205.6v4.6M382.50 326.0v-4.6M382.50 205.6v4.6M429.00 326.0v-4.6M429.00 205.6v4.6M475.50 326.0v-4.6M475.50 205.6v4.6M522.00 326.0v-4.6M522.00 205.6v4.6" stroke="#6e6e6e" stroke-width="1.1" fill="none"/>
<text x="56.30" y="342.70" text-anchor="middle" class="tk">0</text>
<text x="102.80" y="342.70" text-anchor="middle" class="tk">10</text>
<text x="149.30" y="342.70" text-anchor="middle" class="tk">20</text>
<text x="195.80" y="342.70" text-anchor="middle" class="tk">30</text>
<text x="242.30" y="342.70" text-anchor="middle" class="tk">40</text>
<text x="288.80" y="342.70" text-anchor="middle" class="tk">50</text>
<text x="335.30" y="342.70" text-anchor="middle" class="tk">60</text>
<text x="381.80" y="342.70" text-anchor="middle" class="tk">70</text>
<text x="428.30" y="342.70" text-anchor="middle" class="tk">80</text>
<text x="474.80" y="342.70" text-anchor="middle" class="tk">90</text>
<text x="521.30" y="342.70" text-anchor="middle" class="tk">100</text>
<path d="M57.0 325.50h4.6M522.0 325.50h-4.6M57.0 285.70h4.6M522.0 285.70h-4.6M57.0 245.90h4.6M522.0 245.90h-4.6M57.0 206.10h4.6M522.0 206.10h-4.6" stroke="#6e6e6e" stroke-width="1.1" fill="none"/>
<text x="51.60" y="330.20" text-anchor="end" class="tk">0</text>
<text x="51.60" y="290.40" text-anchor="end" class="tk">1,000</text>
<text x="51.60" y="250.60" text-anchor="end" class="tk">2,000</text>
<text x="51.60" y="210.80" text-anchor="end" class="tk">3,000</text>
<text x="289.5" y="358.7" text-anchor="middle" class="lb">SV(number)</text>
<text transform="translate(16.6,265.5) rotate(-90)" text-anchor="middle" class="lb">Amp(m/s<tspan class="sup" dy="-6.3">2</tspan><tspan dy="6.3">)</tspan></text>
<text x="29.5" y="188.3" class="pl">(b)</text>
<path d="M366 220.5h26" stroke="#ff0000" stroke-width="1"/><circle cx="378.9" cy="220.5" r="3.5" fill="none" stroke="#ff0000"/>
<path d="M366 244h26M379.4 240.7v6.6" stroke="#3450c8" stroke-width="1.1"/>
<text x="395" y="225.9" class="lg">Singular value mean</text>
<text x="395" y="249.1" class="lg">Singualr value</text>
<text x="84" y="281" class="an">optimal order=7</text>
<path d="M93.6 313.3L114.5 291.8" stroke="#000" stroke-width="1.25"/>
<path d="M119 287.2L107.4 293.4L113.2 293.3L113.6 299.2Z" fill="#000"/>
<clipPath id="cc"><rect x="57" y="385" width="466" height="120"/></clipPath>
<polyline points="57.05,436.49 57.36,455.30 57.69,431.64 58.07,456.17 58.53,438.62 59.13,453.79 59.82,435.98 60.40,452.84 60.84,431.93 61.21,454.40 61.54,431.89 61.84,460.14 62.15,430.77 62.46,460.49 62.79,429.55 63.15,460.68 63.60,435.42 64.17,456.67 64.86,433.13 65.46,455.28 65.92,438.19 66.30,463.81 66.63,431.02 66.94,460.09 67.25,425.09 67.55,462.73 67.88,429.60 68.24,461.67 68.66,437.47 69.21,458.31 69.89,434.30 70.52,453.64 71.00,429.77 71.39,464.52 71.73,431.39 72.04,464.64 72.35,429.11 72.65,465.66 72.97,425.86 73.32,457.79 73.74,428.59 74.26,459.03 74.92,431.30 75.58,460.50 76.08,431.06 76.48,464.07 76.83,423.28 77.14,458.53 77.45,422.20 77.75,463.28 78.07,426.84 78.41,457.74 78.81,428.21 79.31,456.96 79.95,429.27 80.62,456.74 81.15,429.41 81.57,461.21 81.92,425.00 82.24,460.98 82.55,429.14 82.85,468.45 83.16,422.86 83.50,463.79 83.89,425.61 84.36,456.38 84.99,429.33 85.67,455.32 86.22,427.07 86.65,462.62 87.01,426.05 87.34,468.12 87.65,422.42 87.95,467.67 88.26,433.32 88.59,460.89 88.97,434.81 89.43,455.68 90.03,435.18 90.72,459.77 91.29,435.63 91.73,457.90 92.10,428.96 92.43,465.68 92.74,424.29 93.04,464.90 93.35,431.52 93.68,461.24 94.05,429.51 94.50,452.88 95.07,432.79 95.76,455.22 96.36,432.88 96.82,459.38 97.19,429.39 97.52,460.74 97.83,428.71 98.14,457.63 98.44,429.92 98.77,455.30 99.13,432.63 99.57,456.45 100.13,433.79 100.82,453.94 101.43,439.55 101.89,456.00 102.28,435.83 102.61,459.23 102.92,433.25 103.23,456.82 103.53,430.67 103.86,455.47 104.22,436.27 104.64,452.75 105.19,437.81 105.87,449.90 106.50,437.90 106.97,454.47 107.36,436.49 107.70,455.13 108.01,434.54 108.31,455.46 108.62,435.39 108.94,454.82 109.30,436.05 109.72,451.05 110.26,438.50 110.94,451.37 111.57,438.72 112.05,454.39 112.44,436.09 112.78,457.31 113.09,432.33 113.40,453.91 113.70,433.06 114.02,456.29 114.38,432.76 114.80,451.95 115.33,438.00 116.01,454.73 116.64,435.40 117.13,458.18 117.52,432.92 117.86,457.07 118.17,426.08 118.48,458.84 118.78,432.96 119.10,458.50 119.46,432.20 119.88,455.65 120.41,432.88 121.09,460.00 121.72,435.72 122.21,459.23 122.60,426.75 122.94,467.21 123.25,422.38 123.55,459.59 123.86,425.57 124.18,466.78 124.54,434.79 124.96,460.36 125.50,435.04 126.18,460.04 126.80,428.20 127.28,461.11 127.67,435.48 128.01,457.60 128.32,425.95 128.63,468.98 128.93,428.89 129.26,465.31 129.61,429.58 130.04,457.31 130.58,430.72 131.27,456.13 131.89,433.04 132.36,461.98 132.75,428.77 133.08,465.56 133.40,426.55 133.70,459.02 134.01,427.97 134.33,464.87 134.69,429.84 135.12,461.08 135.68,439.18 136.36,455.22 136.97,431.58 137.44,459.74 137.82,429.89 138.16,462.43 138.47,425.89 138.77,463.19 139.08,428.96 139.40,460.20 139.77,430.97 140.20,454.97 140.77,434.41 141.46,455.02 142.06,434.10 142.52,455.48 142.89,438.41 143.23,457.42 143.54,430.82 143.84,458.03 144.15,432.97 144.48,454.59 144.84,437.13 145.29,453.47 145.87,440.82 146.56,452.31 147.15,437.82 147.60,453.27 147.97,440.01 148.30,450.28 148.61,436.68 148.91,451.96 149.22,439.03 149.55,451.50 149.92,438.21 150.37,449.51 150.96,439.54 151.65,451.62 152.23,437.54 152.67,449.54 153.04,434.53 153.37,454.71 153.68,434.99 153.98,456.25 154.29,436.16 154.62,457.05 155.00,437.91 155.46,453.49 156.06,439.22 156.75,453.66 157.31,434.31 157.75,457.52 158.12,436.66 158.44,458.63 158.75,429.79 159.05,455.57 159.36,433.03 159.70,458.43 160.08,433.01 160.54,454.42 161.15,435.29 161.84,455.43 162.40,435.60 162.83,458.27 163.19,430.92 163.51,461.45 163.82,429.72 164.12,458.84 164.44,430.95 164.77,461.87 165.15,435.54 165.62,453.29 166.24,439.30 166.93,457.93 167.48,430.07 167.91,456.45 168.27,432.09 168.59,458.27 168.90,426.84 169.20,462.24 169.51,425.68 169.85,457.38 170.23,428.63 170.70,457.10 171.32,431.56 172.01,459.03 172.56,428.93 172.99,460.40 173.35,427.05 173.67,463.89 173.98,430.63 174.28,463.47 174.59,423.85 174.93,464.44 175.31,437.02 175.78,458.51 176.40,435.03 177.08,453.43 177.64,436.04 178.07,461.34 178.43,426.02 178.75,461.77 179.06,429.50 179.36,461.88 179.67,426.51 180.01,461.56 180.39,436.86 180.85,454.04 181.46,432.84 182.15,455.32 182.71,433.03 183.15,459.54 183.51,430.20 183.84,461.84 184.14,429.49 184.45,457.42 184.76,433.92 185.09,461.69 185.47,438.68 185.93,456.43 186.52,433.84 187.21,452.75 187.79,438.81 188.23,455.83 188.60,433.85 188.92,458.39 189.23,431.75 189.54,461.41 189.85,435.64 190.18,460.21 190.55,438.38 191.00,456.77 191.58,437.42 192.27,454.72 192.86,440.50 193.31,454.44 193.68,433.67 194.02,456.85 194.33,432.27 194.63,453.16 194.94,435.70 195.26,454.73 195.63,440.54 196.06,452.77 196.63,439.91 197.32,449.24 197.93,441.17 198.39,451.59 198.77,440.73 199.11,451.73 199.42,437.56 199.72,452.73 200.03,434.85 200.35,454.43 200.71,435.12 201.13,453.55 201.68,438.91 202.36,451.79 202.99,439.12 203.47,453.27 203.86,432.93 204.20,459.69 204.52,433.08 204.82,458.12 205.13,428.37 205.45,462.26 205.80,436.49 206.21,452.68 206.73,433.15 207.39,455.59 208.04,434.44 208.55,459.00 208.95,428.16 209.30,455.99 209.61,424.03 209.92,466.49 210.22,427.82 210.54,462.28 210.88,431.46 211.28,460.30 211.78,434.80 212.42,458.12 213.09,428.94 213.62,460.38 214.04,424.53 214.39,460.28 214.71,419.81 215.02,460.88 215.32,427.57 215.64,468.79 215.97,428.12 216.36,457.62 216.83,434.54 217.45,462.49 218.14,436.28 218.69,455.94 219.12,421.33 219.49,469.94 219.81,423.93 220.12,463.81 220.42,417.33 220.73,471.39 221.07,422.21 221.44,464.08 221.89,428.58 222.48,463.85 223.18,429.93 223.76,456.02 224.21,433.11 224.58,466.35 224.91,420.86 225.22,468.91 225.52,420.23 225.83,463.26 226.16,427.45 226.52,459.45 226.96,431.66 227.52,456.13 228.21,430.30 228.82,454.89 229.29,433.42 229.67,463.38 230.01,428.72 230.32,461.37 230.62,424.29 230.93,465.57 231.25,432.58 231.61,455.38 232.03,433.54 232.57,455.62 233.25,436.67 233.88,455.04 234.37,433.83 234.76,458.30 235.10,435.25 235.41,458.41 235.72,437.39 236.02,452.57 236.34,438.49 236.69,451.60 237.10,436.40 237.62,450.79 238.29,439.88 238.94,449.76 239.44,441.34 239.84,448.14 240.19,441.42 240.51,450.53 240.81,441.43 241.12,448.50 241.43,442.66 241.78,448.53 242.18,441.81 242.68,447.94 243.34,441.72 244.00,448.88 244.52,439.96 244.93,451.51 245.28,437.73 245.60,454.54 245.90,435.30 246.21,450.59 246.52,437.22 246.86,450.11 247.26,438.35 247.75,452.83 248.39,438.01 249.06,452.21 249.59,439.86 250.01,455.69 250.36,434.30 250.68,454.71 250.99,431.94 251.29,452.09 251.61,436.60 251.95,456.83 252.34,439.52 252.82,450.99 253.45,437.33 254.13,454.21 254.67,435.40 255.09,451.64 255.45,434.87 255.77,459.69 256.07,432.88 256.38,455.76 256.69,438.34 257.03,455.21 257.42,432.03 257.90,451.09 258.52,435.72 259.20,456.63 259.75,433.22 260.17,455.73 260.53,430.00 260.85,455.89 261.16,429.49 261.46,458.26 261.77,427.20 262.11,461.58 262.50,431.12 262.97,455.13 263.60,433.10 264.28,458.50 264.82,434.02 265.25,459.35 265.60,433.22 265.93,457.06 266.23,425.34 266.54,456.42 266.85,427.33 267.19,456.06 267.58,430.10 268.06,458.95 268.68,431.15 269.36,455.83 269.90,433.25 270.32,458.78 270.68,427.12 271.00,465.07 271.31,432.59 271.61,460.55 271.93,434.68 272.26,457.34 272.65,430.40 273.14,459.07 273.77,431.84 274.45,452.18 274.98,433.83 275.40,461.56 275.75,429.87 276.08,459.78 276.38,426.02 276.68,464.34 277.00,433.78 277.34,459.14 277.73,436.15 278.23,453.27 278.87,435.01 279.54,453.56 280.06,431.95 280.48,456.92 280.83,434.11 281.15,461.40 281.45,432.14 281.76,454.89 282.07,427.64 282.42,454.71 282.81,437.51 283.31,453.91 283.97,440.82 284.63,454.50 285.15,439.17 285.55,451.36 285.90,431.25 286.22,456.99 286.52,431.40 286.83,458.60 287.14,433.42 287.49,450.49 287.89,437.02 288.41,449.23 289.07,441.77 289.72,452.75 290.23,438.49 290.63,455.34 290.97,434.76 291.29,457.81 291.59,432.95 291.90,458.34 292.22,435.00 292.57,455.93 292.98,436.12 293.50,452.02 294.17,438.97 294.81,450.98 295.31,437.63 295.70,451.32 296.04,436.87 296.36,454.72 296.66,437.54 296.97,451.62 297.29,440.17 297.64,451.92 298.06,439.73 298.59,449.20 299.26,441.88 299.90,448.82 300.39,441.96 300.78,453.12 301.12,437.03 301.43,455.62 301.73,437.76 302.04,457.12 302.36,437.55 302.72,456.71 303.14,435.97 303.68,452.74 304.36,436.47 304.99,452.89 305.46,432.75 305.85,455.64 306.19,429.50 306.50,462.51 306.81,429.06 307.11,465.03 307.43,432.41 307.79,455.34 308.22,431.97 308.77,460.82 309.45,431.58 310.07,457.74 310.54,432.44 310.93,458.83 311.27,424.72 311.58,469.96 311.88,418.33 312.19,466.54 312.51,421.69 312.87,464.68 313.30,429.10 313.85,455.17 314.53,434.51 315.15,454.10 315.62,429.92 316.01,455.75 316.34,426.12 316.66,460.68 316.96,424.78 317.26,460.32 317.59,435.97 317.95,459.39 318.38,433.59 318.93,455.69 319.61,437.71 320.23,456.87 320.70,432.35 321.09,457.13 321.42,425.75 321.74,469.38 322.04,425.38 322.35,469.74 322.67,421.77 323.03,454.94 323.45,433.54 324.00,455.69 324.68,432.23 325.30,458.66 325.78,428.48 326.17,457.37 326.51,427.69 326.82,460.99 327.12,421.73 327.43,466.25 327.75,430.50 328.11,461.62 328.53,437.39 329.06,449.80 329.74,438.59 330.38,452.78 330.86,435.47 331.25,453.91 331.59,438.38 331.91,454.86 332.21,440.21 332.52,454.13 332.84,439.50 333.19,448.50 333.60,442.64 334.13,447.69 334.80,442.23 335.44,447.39 335.94,440.25 336.34,451.12 336.68,439.73 337.00,449.46 337.30,439.66 337.61,452.27 337.92,439.47 338.27,450.12 338.68,440.53 339.19,450.43 339.84,442.64 340.50,450.40 341.02,440.08 341.42,452.28 341.77,437.81 342.09,454.60 342.40,438.87 342.70,451.72 343.02,437.82 343.36,451.49 343.75,440.50 344.24,448.79 344.88,442.54 345.56,449.61 346.09,437.67 346.51,455.51 346.87,434.68 347.19,460.91 347.49,428.30 347.80,458.48 348.11,434.50 348.45,461.66 348.83,429.86 349.30,456.86 349.92,432.03 350.61,456.75 351.16,430.01 351.60,457.89 351.96,423.44 352.28,478.26 352.59,424.72 352.89,467.12 353.20,427.99 353.54,470.42 353.91,422.67 354.36,462.52 354.95,427.43 355.65,461.29 356.23,426.91 356.68,467.19 357.05,420.34 357.38,463.39 357.69,425.05 357.99,476.69 358.30,422.99 358.63,468.67 358.99,422.27 359.43,463.24 359.99,433.10 360.68,457.26 361.29,433.18 361.76,467.17 362.14,417.82 362.48,465.22 362.79,420.01 363.09,467.51 363.40,414.26 363.72,468.00 364.08,418.02 364.50,460.71 365.03,428.51 365.71,461.12 366.35,425.10 366.84,467.77 367.23,415.03 367.58,474.72 367.89,429.01 368.19,472.93 368.50,410.67 368.82,470.30 369.17,418.71 369.57,459.27 370.08,427.49 370.74,459.36 371.40,425.49 371.91,457.64 372.32,424.29 372.67,474.96 372.99,419.06 373.29,472.90 373.60,420.68 373.91,462.31 374.25,426.27 374.65,465.75 375.14,429.63 375.77,455.54 376.45,432.14 376.99,461.36 377.41,425.44 377.76,457.55 378.08,429.05 378.39,470.52 378.69,427.03 379.01,467.59 379.34,426.98 379.73,461.58 380.20,437.94 380.81,456.53 381.50,434.15 382.06,453.82 382.49,430.82 382.85,453.10 383.18,425.85 383.49,460.82 383.79,426.91 384.10,462.27 384.43,437.62 384.81,457.54 385.26,439.56 385.86,450.06 386.55,439.07 387.13,450.88 387.57,436.24 387.94,452.47 388.27,434.28 388.58,456.93 388.88,433.47 389.19,453.62 389.52,438.48 389.89,451.84 390.34,438.80 390.91,452.14 391.61,438.18 392.20,453.35 392.65,435.15 393.03,461.60 393.36,426.43 393.67,457.78 393.97,427.64 394.28,460.28 394.60,426.58 394.97,460.27 395.41,434.74 395.98,457.75 396.67,430.81 397.27,459.43 397.73,420.65 398.11,463.06 398.44,425.92 398.75,481.81 399.05,409.93 399.36,482.84 399.69,407.70 400.05,471.42 400.49,420.67 401.05,464.07 401.74,427.88 402.34,464.57 402.81,414.78 403.19,471.47 403.52,413.56 403.83,479.87 404.14,406.76 404.44,466.91 404.77,412.67 405.13,459.91 405.56,428.00 406.12,459.14 406.81,431.57 407.42,459.35 407.89,428.20 408.27,455.78 408.60,427.72 408.91,467.53 409.22,427.20 409.52,465.07 409.85,430.52 410.21,456.63 410.64,435.89 411.20,454.58 411.89,440.85 412.50,452.15 412.96,436.30 413.34,458.14 413.68,434.07 413.99,469.95 414.29,428.86 414.60,466.19 414.93,421.42 415.29,461.96 415.73,433.42 416.29,455.83 416.98,432.88 417.58,458.37 418.04,426.65 418.42,466.42 418.75,428.21 419.06,476.45 419.37,414.07 419.67,471.05 420.00,429.96 420.37,467.38 420.81,431.99 421.38,456.19 422.07,435.45 422.67,461.23 423.12,427.11 423.49,461.94 423.82,425.35 424.13,466.65 424.44,424.44 424.75,468.05 425.07,422.52 425.44,454.40 425.89,431.24 426.48,456.67 427.17,437.53 427.75,458.58 428.20,429.18 428.57,462.76 428.90,432.97 429.20,462.64 429.51,424.85 429.82,462.13 430.15,435.95 430.52,458.39 430.98,436.71 431.57,451.08 432.26,438.73 432.83,450.75 433.27,436.18 433.64,451.57 433.97,429.86 434.27,454.44 434.58,434.09 434.89,454.89 435.22,435.79 435.60,451.95 436.06,438.05 436.67,449.73 437.36,436.43 437.92,453.73 438.35,429.59 438.71,459.13 439.04,432.88 439.34,468.51 439.65,429.60 439.96,467.86 440.29,423.14 440.68,457.76 441.15,433.57 441.77,457.98 442.45,428.81 443.00,465.90 443.43,422.53 443.79,474.08 444.11,408.16 444.41,470.18 444.72,405.84 445.03,482.26 445.37,422.75 445.76,469.34 446.24,424.72 446.86,462.96 447.54,433.69 448.08,459.04 448.50,423.02 448.86,467.84 449.18,409.17 449.49,488.14 449.79,405.83 450.10,487.43 450.44,415.47 450.83,468.22 451.32,431.79 451.96,465.14 452.63,427.15 453.16,469.68 453.58,415.55 453.93,463.96 454.26,413.06 454.56,475.82 454.86,411.17 455.18,461.90 455.52,420.07 455.91,464.53 456.40,432.19 457.04,453.96 457.72,431.52 458.24,454.50 458.66,428.22 459.01,458.29 459.33,423.55 459.64,466.47 459.94,418.14 460.26,470.96 460.60,422.43 460.99,460.78 461.48,430.07 462.12,458.32 462.80,432.07 463.32,463.48 463.74,420.21 464.09,468.55 464.41,413.45 464.72,474.36 465.02,420.18 465.34,469.68 465.68,421.58 466.07,460.65 466.56,427.97 467.19,457.00 467.87,430.93 468.40,464.36 468.82,421.56 469.17,470.84 469.50,416.42 469.80,475.34 470.10,418.03 470.42,467.85 470.76,420.45 471.15,457.51 471.63,435.87 472.26,455.02 472.94,435.74 473.48,462.39 473.90,427.59 474.26,469.44 474.58,422.25 474.89,463.59 475.19,418.62 475.50,469.95 475.84,432.32 476.22,461.61 476.70,433.50 477.32,452.50 478.00,436.65 478.55,457.75 478.98,434.41 479.35,462.21 479.67,427.17 479.98,463.62 480.28,431.45 480.59,464.19 480.93,430.84 481.30,457.51 481.77,435.95 482.37,451.40 483.06,437.39 483.63,452.54 484.07,432.05 484.43,458.34 484.76,432.63 485.07,462.28 485.37,428.18 485.68,467.03 486.01,430.86 486.38,462.10 486.83,438.31 487.41,452.72 488.11,435.55 488.70,460.64 489.15,426.00 489.52,466.56 489.86,420.21 490.17,478.91 490.47,421.34 490.78,478.36 491.10,420.94 491.47,470.10 491.90,423.64 492.46,460.16 493.15,432.54 493.76,460.78 494.23,424.57 494.61,466.51 494.95,410.41 495.26,488.17 495.57,407.85 495.87,491.42 496.19,403.34 496.55,477.79 496.97,419.35 497.50,460.62 498.18,426.37 498.82,456.35 499.31,432.45 499.70,462.74 500.05,417.97 500.36,482.25 500.67,425.26 500.97,474.53 501.29,415.09 501.64,473.41 502.04,425.74 502.55,457.08 503.21,436.41 503.87,458.45 504.38,426.35 504.79,468.27 505.14,421.04 505.46,463.87 505.77,428.84 506.07,459.86 506.39,427.15 506.73,463.40 507.12,434.67 507.60,456.52 508.24,437.16 508.92,455.43 509.46,434.05 509.88,461.29 510.24,430.81 510.56,465.33 510.87,421.03 511.17,456.90 511.48,421.00 511.82,463.57 512.20,426.80 512.66,455.18 513.27,434.75 513.96,457.23 514.53,430.78 514.96,464.02 515.33,419.31 515.66,463.80 515.97,415.48 516.27,470.99 516.58,414.09 516.91,473.33 517.28,426.61 517.73,458.61 518.31,430.39 519.00,459.66 519.59,429.51 520.05,465.84 520.42,419.82 520.75,467.99 521.06,422.96 521.37,460.59 521.67,423.25 522.00,461.24" fill="none" stroke="#0072BD" stroke-width="0.85" clip-path="url(#cc)"/>
<rect x="57.05" y="385.6" width="464.95" height="118.80" fill="none" stroke="#6e6e6e" stroke-width="1.1"/>
<path d="M57.05 504.4v-4.6M57.05 385.6v4.6M115.17 504.4v-4.6M115.17 385.6v4.6M173.29 504.4v-4.6M173.29 385.6v4.6M231.41 504.4v-4.6M231.41 385.6v4.6M289.52 504.4v-4.6M289.52 385.6v4.6M347.64 504.4v-4.6M347.64 385.6v4.6M405.76 504.4v-4.6M405.76 385.6v4.6M463.88 504.4v-4.6M463.88 385.6v4.6M522.00 504.4v-4.6M522.00 385.6v4.6" stroke="#6e6e6e" stroke-width="1.1" fill="none"/>
<text x="56.35" y="521.00" text-anchor="middle" class="tk">0</text>
<text x="114.47" y="521.00" text-anchor="middle" class="tk">0.005</text>
<text x="172.59" y="521.00" text-anchor="middle" class="tk">0.01</text>
<text x="230.71" y="521.00" text-anchor="middle" class="tk">0.015</text>
<text x="288.82" y="521.00" text-anchor="middle" class="tk">0.02</text>
<text x="346.94" y="521.00" text-anchor="middle" class="tk">0.025</text>
<text x="405.06" y="521.00" text-anchor="middle" class="tk">0.03</text>
<text x="463.18" y="521.00" text-anchor="middle" class="tk">0.035</text>
<text x="521.30" y="521.00" text-anchor="middle" class="tk">0.04</text>
<path d="M57.05 405.41h4.6M522.0 405.41h-4.6M57.05 445.13h4.6M522.0 445.13h-4.6M57.05 484.85h4.6M522.0 484.85h-4.6" stroke="#6e6e6e" stroke-width="1.1" fill="none"/>
<text x="51.65" y="410.11" text-anchor="end" class="tk">20</text>
<text x="51.65" y="449.83" text-anchor="end" class="tk">0</text>
<text x="51.65" y="489.55" text-anchor="end" class="tk">-20</text>
<text x="289.6" y="537.8" text-anchor="middle" class="lb">Time(s)</text>
<text transform="translate(23.85,447.2) rotate(-90)" text-anchor="middle" class="lb">Amp/(m/s<tspan class="sup" dy="-6.3">2</tspan><tspan dy="6.3">)</tspan></text>
<text x="31" y="376.5" class="pl">(c)</text>
</svg></body></html>
